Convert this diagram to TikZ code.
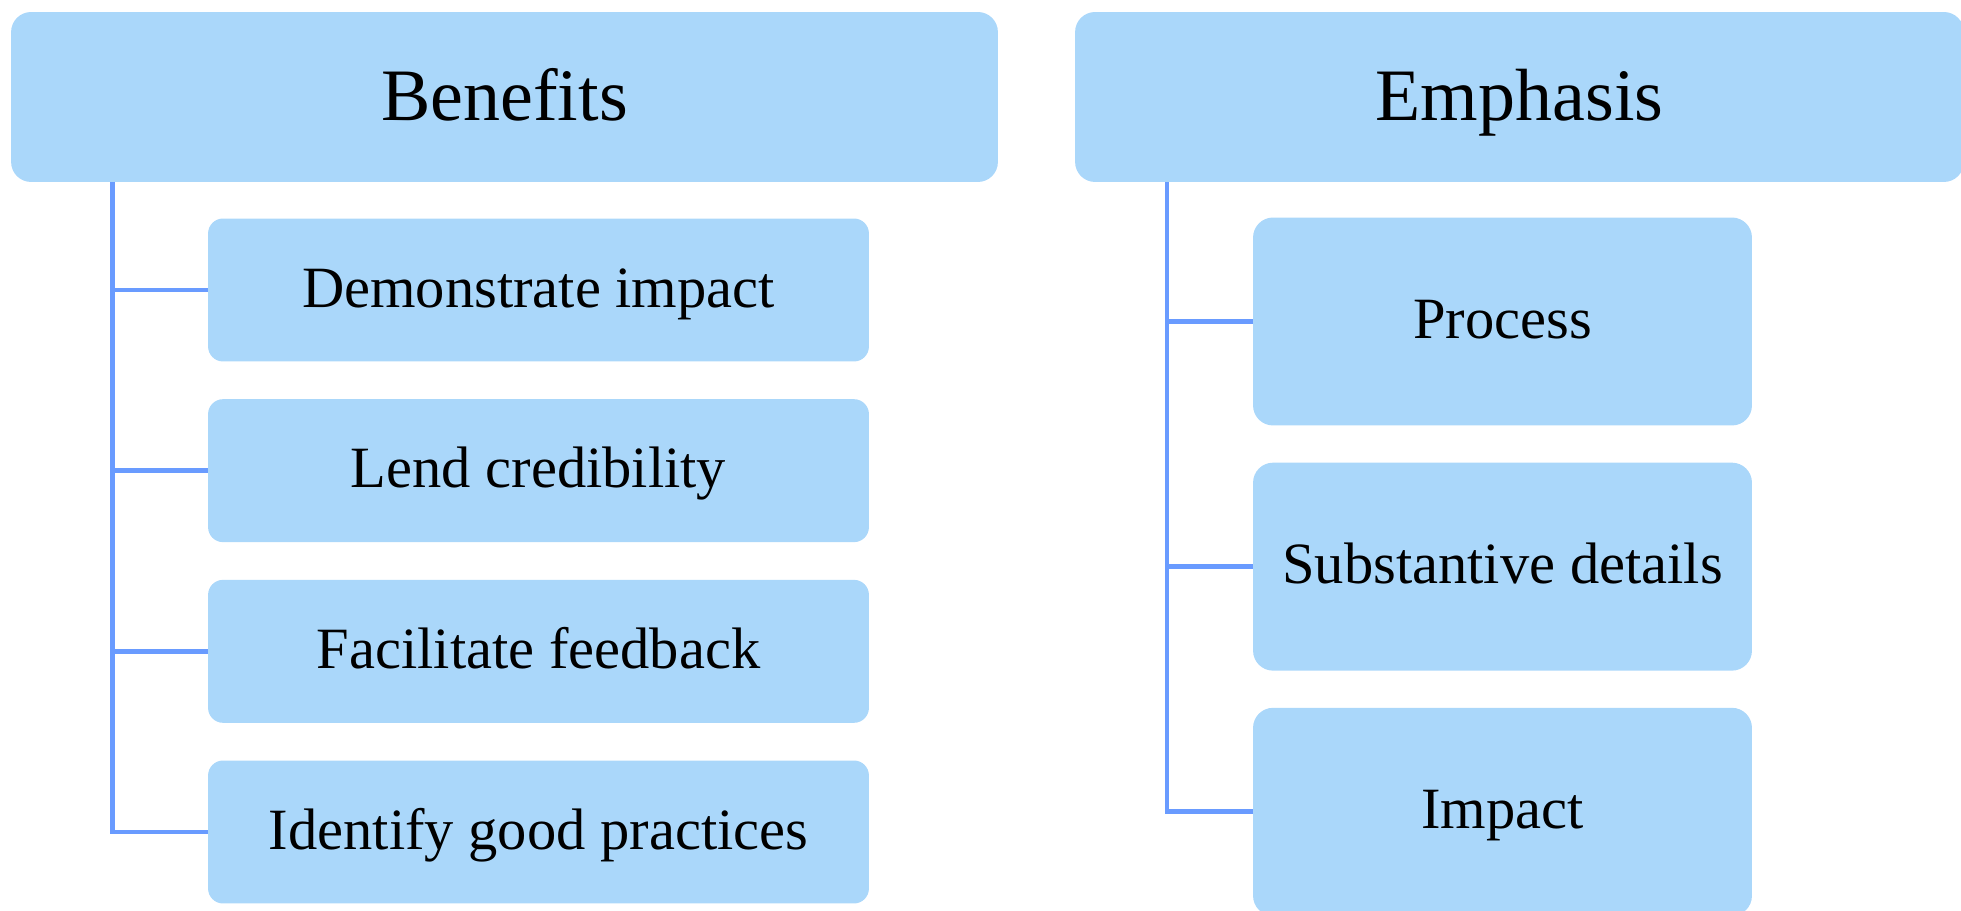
\documentclass[tikz,border=0pt]{standalone}
\usepackage{fontspec}
\setmainfont{Liberation Serif}
\usepackage{xcolor}
\usepackage{tikz}
\usetikzlibrary{positioning, calc}
\definecolor{boxblue}{HTML}{AAD7FA}
\definecolor{linkblue}{HTML}{699BFF}

\begin{document}
\begin{tikzpicture}[x=0.02cm, y=-0.02cm,
    headbox/.style={fill=boxblue, rounded corners=0.4cm, minimum height=3.4cm,
                    inner sep=0pt, text height=29pt, text depth=2.8pt,
                    font=\fontsize{42.1}{50}\selectfont},
    benitem/.style={fill=boxblue, rounded corners=0.3cm, minimum width=13.22cm,
                    minimum height=2.86cm, inner sep=0pt, text height=23pt,
                    text depth=3.6pt, font=\fontsize{33.3}{40}\selectfont},
    empitem/.style={benitem, rounded corners=0.4cm, minimum width=9.98cm,
                    minimum height=4.16cm},
    branch/.style={draw=linkblue, line width=2.8pt}]
  \useasboundingbox (0,0) rectangle (1961,911);

  % left column
  \node[headbox, minimum width=19.74cm] (benefits) at (504.5,97) {Benefits};
  \node[benitem] (ben1) at (538.5,290) {Demonstrate impact};
  \node[benitem, below=0.74cm of ben1] (ben2) {Lend credibility};
  \node[benitem, below=0.74cm of ben2] (ben3) {Facilitate feedback};
  \node[benitem, below=0.74cm of ben3] (ben4) {Identify good practices};

  % right column
  \node[headbox, minimum width=17.78cm] (emphasis) at (1519.5,97) {Emphasis};
  \node[empitem] (emp1) at (1502.5,321.5) {Process};
  \node[empitem, below=0.73cm of emp1] (emp2) {Substantive details};
  \node[empitem, below=0.73cm of emp2] (emp3) {Impact};

  % tree lines
  \coordinate (bentrunk) at (112.5,182);
  \coordinate (emptrunk) at (1167,182);
  \draw[branch] (bentrunk) |- (ben4.west);
  \foreach \i in {1,2,3}
    \draw[branch] (ben\i.west -| bentrunk) -- (ben\i.west);
  \draw[branch] (emptrunk) |- (emp3.west);
  \foreach \i in {1,2}
    \draw[branch] (emp\i.west -| emptrunk) -- (emp\i.west);
\end{tikzpicture}
\end{document}
